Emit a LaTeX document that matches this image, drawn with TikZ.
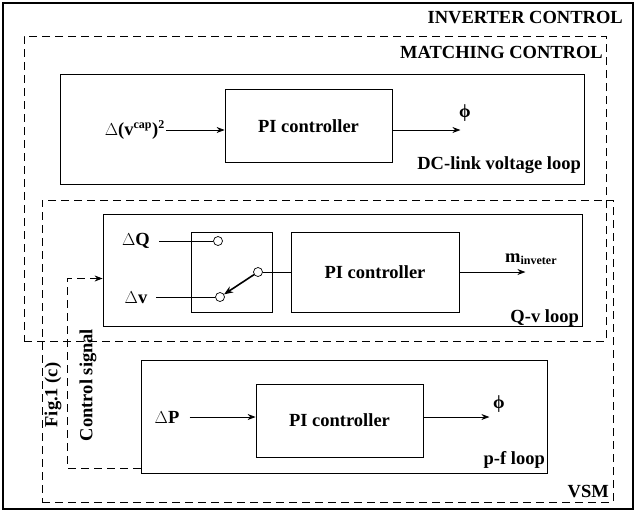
\documentclass[tikz,border=0pt]{standalone}
\usepackage{fontspec}
\setmainfont{Liberation Serif}
\usepackage{tikz}
\usetikzlibrary{positioning, arrows.meta}

\begin{document}
\begin{tikzpicture}[
    x=1pt, y=-1pt,
    font=\bfseries\fontsize{18.5}{20}\selectfont,
    frame/.style={
        rectangle,
        draw=black,
        line width=0.8pt,
        inner sep=0pt
    },
    dframe/.style={
        frame,
        dash pattern=on 8pt off 5pt
    },
    lbl/.style={
        inner sep=0pt,
        anchor=east
    },
    pin/.style={
        circle,
        draw=black,
        fill=white,
        line width=0.7pt,
        minimum size=9pt,
        inner sep=0pt
    },
    arr/.style={
        line width=0.8pt,
        -{Stealth[length=8pt,width=6pt]}
    },
    ctrl/.style={
        arr,
        line width=1pt,
        dash pattern=on 8pt off 5pt
    }
]
\useasboundingbox (0,0) rectangle (636,512);

% frames
\node[frame, line width=1.4pt, minimum width=630pt, minimum height=506pt] (inv) at (318,256) {};
\node[dframe, minimum width=582pt, minimum height=305pt] (match) at (315,188.5) {};
\node[dframe, minimum width=571pt, minimum height=302pt] (vsm) at (327.5,351) {};
\node[lbl] (invlbl) at (623,18) {INVERTER CONTROL};
\node[lbl] (matchlbl) at (603,52) {MATCHING CONTROL};
\node[lbl] (vsmlbl) at (609,492) {VSM};

% DC-link voltage loop
\node[frame, fill=white, minimum width=524pt, minimum height=110pt] (dc) at (322,129) {};
\node[frame, minimum width=167pt, minimum height=73pt] (pidc) at (308.5,126) {PI controller};
\node[inner sep=1pt, anchor=east] (vcap) at (166,130) {$\Delta$(v\textsuperscript{\fontsize{12}{12}\selectfont cap})\textsuperscript{\fontsize{12}{12}\selectfont 2}};
\node[inner sep=0pt] (phidc) at (465,113) {ϕ};
\node[lbl] (dclbl) at (581,165) {DC-link voltage loop};
\draw[arr] (vcap.east) -- (pidc.west |- vcap.east);
\draw[arr] (pidc.east |- vcap.east) -- ++(68,0);

% Q-v loop
\node[frame, fill=white, minimum width=479pt, minimum height=112pt] (qv) at (342.5,270) {};
\node[frame, minimum width=81pt, minimum height=80pt] (sw) at (231.5,272) {};
\node[frame, minimum width=168pt, minimum height=80pt] (piqv) at (375,272) {PI controller};
\node[pin] (swq) at (218,241) {};
\node[pin] (swv) at (220,297) {};
\node[pin] (swo) at (258,272) {};
\node[inner sep=0pt] (dq) at (136,241) {$\Delta$Q};
\node[inner sep=0pt] (dv) at (136,298) {$\Delta$v};
\node[inner sep=0pt, anchor=west] (minv) at (505,259) {m\textsubscript{\fontsize{12}{12}\selectfont inveter}};
\node[lbl] (qvlbl) at (579,318) {Q-v loop};
\draw[line width=0.8pt] ([xshift=9pt]dq.east) -- (swq);
\draw[line width=0.8pt] ([xshift=9pt]dv.east |- swv) -- (swv);
\draw[line width=0.8pt] (swo) -- (piqv.west |- swo);
\draw[line width=1.6pt, -{Stealth[length=9pt,width=7pt]}] (swo) -- (swv);
\draw[arr] (piqv.east) -- ++(66,0);

% p-f loop
\node[frame, fill=white, minimum width=406pt, minimum height=113pt] (pf) at (344,416.5) {};
\node[frame, minimum width=167pt, minimum height=73pt] (pipf) at (339.5,420.5) {PI controller};
\node[inner sep=0pt] (dp) at (167,417) {$\Delta$P};
\node[inner sep=0pt] (phipf) at (499,404) {ϕ};
\node[lbl] (pflbl) at (545,460) {p-f loop};
\draw[arr] ([xshift=10pt]dp.east) -- (pipf.west |- dp.east);
\draw[arr] (pipf.east |- dp.east) -- ++(66,0);

% control signal
\coordinate (csb) at (67.5,468.5);
\coordinate (cst) at (67.5,278.5);
\draw[ctrl] (pf.west |- csb) -- (csb) -- (cst) -- (qv.west |- cst);
\node[rotate=90, inner sep=0pt] (cslbl) at (88,385) {Control signal};
\node[rotate=90, inner sep=0pt] (figlbl) at (53,395) {Fig.1 (c)};

\end{tikzpicture}
\end{document}
